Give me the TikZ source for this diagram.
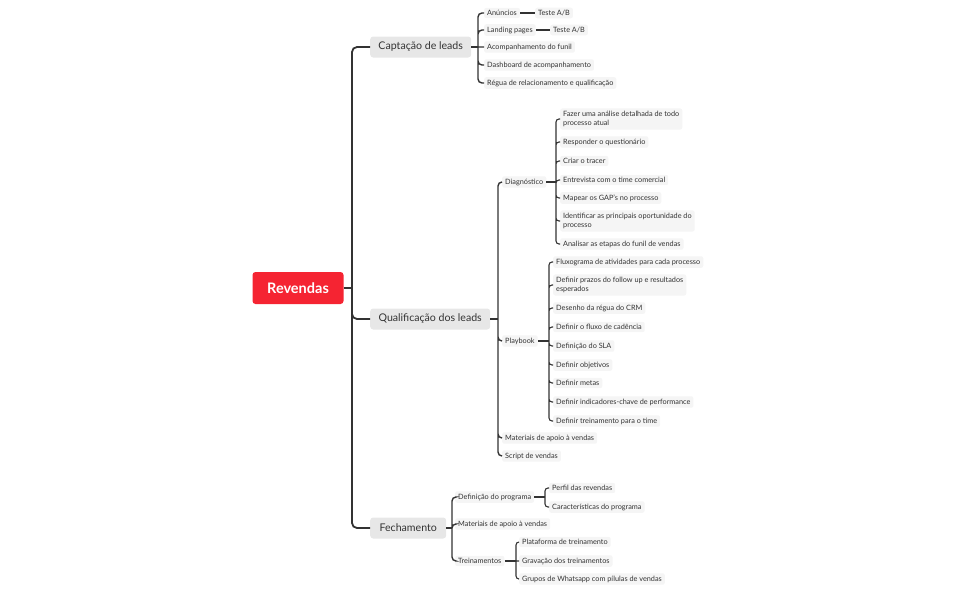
\documentclass[tikz,border=0pt]{standalone}
\usepackage{fontspec}
\setmainfont{Lato}
\usepackage{tikz}
\usetikzlibrary{positioning}
\definecolor{rootred}{RGB}{245,36,50}
\definecolor{topicgray}{RGB}{231,231,231}
\definecolor{leafgray}{RGB}{245,245,245}
\definecolor{ink}{RGB}{51,51,51}

\begin{document}
\begin{tikzpicture}[x=1pt, y=-1pt,
    root/.style={fill=rootred, text=white, rounded corners=3pt,
                 font=\bfseries\fontsize{14.5}{16}\selectfont,
                 minimum width=91pt, minimum height=32pt},
    topic/.style={fill=topicgray, text=ink, rounded corners=3pt, anchor=west,
                  font=\fontsize{10.6}{12}\selectfont, minimum height=21pt},
    sub/.style={fill=leafgray, text=ink, rounded corners=2pt, anchor=west,
                align=left, inner xsep=3pt, inner ysep=2.4pt,
                font=\fontsize{7.3}{9.6}\selectfont},
    trunk/.style={draw=ink, line width=1.8pt, rounded corners=5pt},
    branch/.style={draw=ink, line width=1.4pt, rounded corners=4pt},
    twig/.style={draw=ink, line width=1.1pt, rounded corners=3pt}]
    \useasboundingbox (0,0) rectangle (957,592);

    % central topic and main topics
    \node[root] (rev) at (298,288) {Revendas};
    \node[topic, minimum width=101pt] (cap) at (370,47) {Captação de leads};
    \node[topic, minimum width=120pt] (qual) at (370,319) {Qualificação dos leads};
    \node[topic, minimum width=76pt] (fech) at (370,528) {Fechamento};
    \coordinate (revj) at (352,288);
    \draw[trunk] (rev.east) -- (revj);
    \draw[trunk] (revj) |- (cap.west) (revj) |- (qual.west) (revj) |- (fech.west);

    % Captação de leads
    \node[sub] (anu) at (484,13) {Anúncios};
    \node[sub] (land) at (484,30) {Landing pages};
    \node[sub] (acomp) at (484,47) {Acompanhamento do funil};
    \node[sub] (dash) at (484,65) {Dashboard de acompanhamento};
    \node[sub] (regua) at (484,83) {Régua de relacionamento e qualificação};
    \node[sub] (tanu) at (535,13) {Teste A/B};
    \node[sub] (tland) at (550,30) {Teste A/B};
    \coordinate (capj) at (478,47);
    \draw[branch] (cap.east) -- (capj);
    \draw[branch] (capj) |- (anu.west) (capj) |- (land.west) (capj) -- (acomp.west)
        (capj) |- (dash.west) (capj) |- (regua.west);
    \draw[twig] (anu.east) -- (tanu.west);
    \draw[twig] (land.east) -- (tland.west);

    % Qualificação dos leads
    \node[sub] (diag) at (502,182) {Diagnóstico};
    \node[sub] (play) at (502,341) {Playbook};
    \node[sub] (mat) at (502,438) {Materiais de apoio à vendas};
    \node[sub] (script) at (502,456) {Script de vendas};
    \coordinate (qualj) at (498,319);
    \draw[branch] (qual.east) -- (qualj);
    \draw[branch] (qualj) |- (diag.west) (qualj) |- (play.west) (qualj) |- (mat.west)
        (qualj) |- (script.west);

    % Diagnóstico
    \node[sub] (d1) at (560,119) {Fazer uma análise detalhada de todo\\processo atual};
    \node[sub] (d2) at (560,142) {Responder o questionário};
    \node[sub] (d3) at (560,161) {Criar o tracer};
    \node[sub] (d4) at (560,180) {Entrevista com o time comercial};
    \node[sub] (d5) at (560,198) {Mapear os GAP's no processo};
    \node[sub] (d6) at (560,221) {Identificar as principais oportunidade do\\processo};
    \node[sub] (d7) at (560,244) {Analisar as etapas do funil de vendas};
    \coordinate (diagj) at (556,182);
    \draw[twig] (diag.east) -- (diagj);
    \draw[twig] (diagj) |- (d1.west) (diagj) |- (d2.west) (diagj) |- (d3.west)
        (diagj) |- (d4.west) (diagj) |- (d5.west) (diagj) |- (d6.west) (diagj) |- (d7.west);

    % Playbook
    \node[sub] (p1) at (553,262) {Fluxograma de atividades para cada processo};
    \node[sub] (p2) at (553,285) {Definir prazos do follow up e resultados\\esperados};
    \node[sub] (p3) at (553,308) {Desenho da régua do CRM};
    \node[sub] (p4) at (553,327) {Definir o fluxo de cadência};
    \node[sub] (p5) at (553,346) {Definição do SLA};
    \node[sub] (p6) at (553,365) {Definir objetivos};
    \node[sub] (p7) at (553,383) {Definir metas};
    \node[sub] (p8) at (553,402) {Definir indicadores-chave de performance};
    \node[sub] (p9) at (553,421) {Definir treinamento para o time};
    \coordinate (playj) at (549,341);
    \draw[twig] (play.east) -- (playj);
    \draw[twig] (playj) |- (p1.west) (playj) |- (p2.west) (playj) |- (p3.west)
        (playj) |- (p4.west) (playj) |- (p5.west) (playj) |- (p6.west)
        (playj) |- (p7.west) (playj) |- (p8.west) (playj) |- (p9.west);

    % Fechamento
    \node[sub] (defp) at (455,497) {Definição do programa};
    \node[sub] (mat2) at (455,524) {Materiais de apoio à vendas};
    \node[sub] (trein) at (455,561) {Treinamentos};
    \coordinate (fechj) at (452,528);
    \draw[branch] (fech.east) -- (fechj);
    \draw[branch] (fechj) |- (defp.west) (fechj) |- (mat2.west) (fechj) |- (trein.west);

    \node[sub] (f1) at (549,488) {Perfil das revendas};
    \node[sub] (f2) at (549,507) {Características do programa};
    \coordinate (defpj) at (545,497);
    \draw[twig] (defp.east) -- (defpj);
    \draw[twig] (defpj) |- (f1.west) (defpj) |- (f2.west);

    \node[sub] (t1) at (519,542) {Plataforma de treinamento};
    \node[sub] (t2) at (519,561) {Gravação dos treinamentos};
    \node[sub] (t3) at (519,579) {Grupos de Whatsapp com pílulas de vendas};
    \coordinate (treinj) at (516,561);
    \draw[twig] (trein.east) -- (treinj);
    \draw[twig] (treinj) |- (t1.west) (treinj) -- (t2.west) (treinj) |- (t3.west);
\end{tikzpicture}
\end{document}
